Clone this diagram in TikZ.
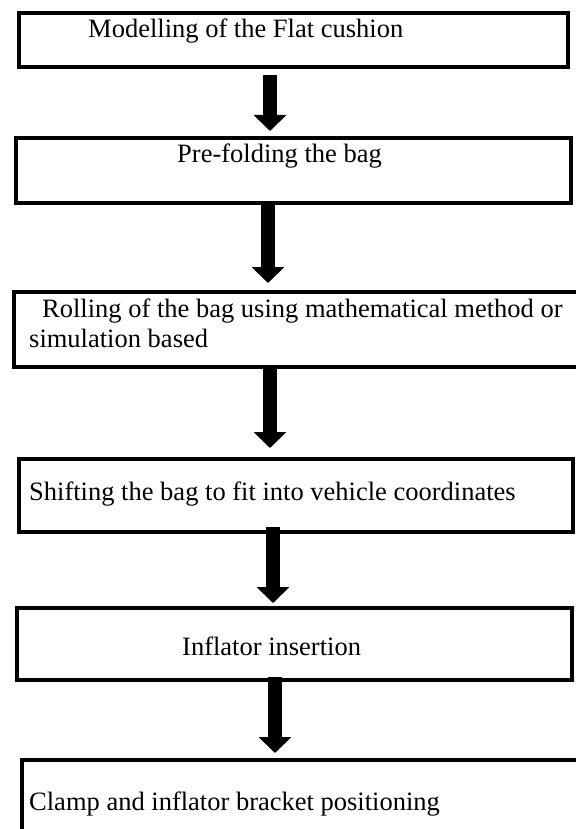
\documentclass[tikz,border=0pt]{standalone}
\usepackage{fontspec}
\setmainfont{Liberation Serif}
\usetikzlibrary{arrows.meta,calc}

\begin{document}
\begin{tikzpicture}[
    x=1pt, y=-1pt,          % pixel-like units, y downwards
    font=\fontsize{26.5}{30}\selectfont,
    line join=miter,
    stepbox/.style={draw, line width=4pt, anchor=north west, inner sep=0pt, outer sep=0pt},
    steptext/.style={anchor=base west, inner sep=0pt, align=left},
    fatarrow/.style={line width=14pt, -{Triangle[width=32pt,length=16pt]}}
]
\useasboundingbox (0,0) rectangle (575,829);

%-----------------------
% BOXES
%-----------------------
\node[stepbox, minimum width=549pt, minimum height=54pt] (model)   at (19,13)  {};
\node[stepbox, minimum width=555pt, minimum height=65pt] (prefold) at (16,138) {};
\node[stepbox, minimum width=575pt, minimum height=75pt] (roll)    at (14,292) {};
\node[stepbox, minimum width=554pt, minimum height=73pt] (shift)   at (19,459) {};
\node[stepbox, minimum width=555pt, minimum height=72pt] (inflate) at (17,608) {};
\node[stepbox, minimum width=575pt, minimum height=80pt] (clamp)   at (22,760) {};

%-----------------------
% TEXTS
%-----------------------
\node[steptext] (tmodel)   at (88,38)  {Modelling of the Flat cushion};
\node[steptext] (tprefold) at (177,163) {Pre-folding the bag};
% base of a two-line node is its last line
\node[steptext] (troll)    at (29,347) {\hspace*{13pt}Rolling of the bag using mathematical method or\\simulation based};
\node[steptext] (tshift)   at (29,500) {Shifting the bag to fit into vehicle coordinates};
\node[steptext] (tinflate) at (182,655) {Inflator insertion};
\node[steptext] (tclamp)   at (29,810) {Clamp and inflator bracket positioning};

%-----------------------
% ARROWS
%-----------------------
\draw[fatarrow, shorten <=8pt,  shorten >=7pt]  (model.south -| 270,0)   -- (prefold.north -| 270,0);
\draw[fatarrow, shorten <=2pt,  shorten >=9pt]  (prefold.south -| 268,0) -- (roll.north -| 268,0);
\draw[fatarrow, shorten <=2pt,  shorten >=11pt] (roll.south -| 270,0)    -- (shift.north -| 270,0);
\draw[fatarrow, shorten <=-5pt, shorten >=5pt]  (shift.south -| 273,0)   -- (inflate.north -| 273,0);
\draw[fatarrow, shorten <=-3pt, shorten >=7pt]  (inflate.south -| 275,0) -- (clamp.north -| 275,0);

\end{tikzpicture}
\end{document}
